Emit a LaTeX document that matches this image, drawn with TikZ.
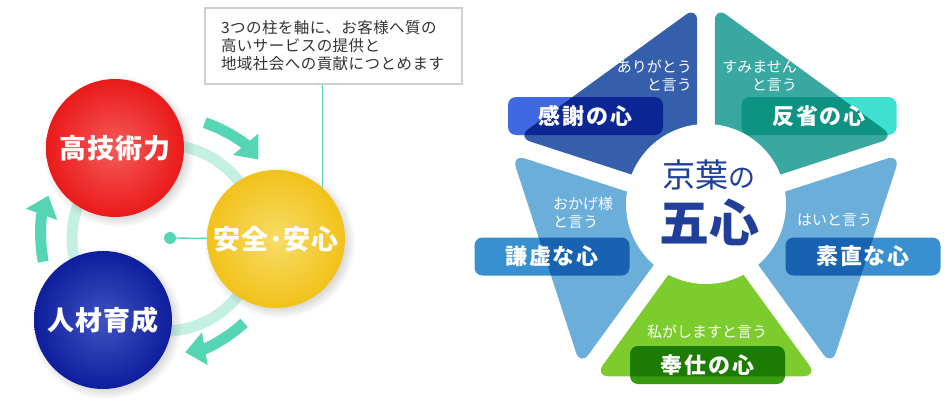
\documentclass[tikz,border=0pt]{standalone}
\usepackage{fontspec}
\setmainfont{Noto Sans CJK JP}
\usepackage{tikz}
\usetikzlibrary{arrows.meta,calc,shadows}
\definecolor{mint}{HTML}{55D5B3}
\definecolor{mintpale}{HTML}{C4F0E3}
\definecolor{notegray}{HTML}{CFCFCF}
\definecolor{notetext}{HTML}{333333}
\definecolor{redin}{HTML}{F65A5A}
\definecolor{redout}{HTML}{EA1A1A}
\definecolor{yellowin}{HTML}{F6DC68}
\definecolor{yellowout}{HTML}{F2C21A}
\definecolor{bluein}{HTML}{4053C2}
\definecolor{blueout}{HTML}{0E1E9C}
\definecolor{petalnavy}{HTML}{365FAB}
\definecolor{petalteal}{HTML}{38A8A1}
\definecolor{petalsky}{HTML}{6BAEDA}
\definecolor{petalgreen}{HTML}{7DCC2E}
\definecolor{tagnavy}{HTML}{4068E0}
\definecolor{tagteal}{HTML}{40E0D0}
\definecolor{tagsky}{HTML}{3890D0}
\definecolor{taggreen}{HTML}{3A9A10}
\definecolor{heartblue}{HTML}{213F98}
\tikzset{
  note/.style   ={rectangle, draw=notegray, line width=1.5pt, fill=white, text=notetext,
                  text width=225pt, inner xsep=16pt, minimum height=76pt, align=left,
                  font=\fontsize{15.5}{18}\selectfont\addfontfeature{LetterSpace=3}},
  pillar/.style ={circle, minimum size=138pt, inner sep=0pt, text=white, shading=radial,
                  font=\fontsize{27}{30}\selectfont\bfseries\addfontfeature{LetterSpace=4},
                  circular drop shadow={shadow xshift=3pt, shadow yshift=-3pt, opacity=.3}},
  ring/.style   ={draw=mintpale, line width=11pt},
  turn/.style   ={draw=mint, line width=11pt, -{Triangle[length=20pt,width=32pt]}},
  lead/.style   ={draw=mint, line width=1.3pt},
  hubdot/.style ={circle, fill=mint, minimum size=12pt, inner sep=0pt},
  petal/.style  ={rounded corners=14pt},
  tagbox/.style ={rectangle, rounded corners=8pt, minimum width=155pt, minimum height=38pt, inner sep=0pt},
  tagtext/.style={text=white, font=\fontsize{22}{24}\selectfont\bfseries\addfontfeature{LetterSpace=8}},
  saying/.style ={text=white, inner sep=0pt, font=\fontsize{15}{18}\selectfont},
}

\begin{document}
\begin{tikzpicture}[x=1pt, y=1pt]
  \useasboundingbox (0,0) rectangle (950,400);
  % three pillars
  \coordinate (hub) at (165,162);
  \draw[ring] (hub) circle[radius=93pt];
  \draw[turn] ([shift={(71:122pt)}]hub) arc[start angle=71, end angle=40, radius=122pt];
  \draw[turn] ([shift={(-47:116pt)}]hub) arc[start angle=-47, end angle=-80, radius=116pt];
  \draw[turn] ([shift={(191:124pt)}]hub) arc[start angle=191, end angle=160, radius=124pt];
  \node[note] (note) at (333.5,354) {3つの柱を軸に、お客様へ質の\\高いサービスの提供と\\地域社会への貢献につとめます};
  \node[pillar, inner color=redin, outer color=redout] (tech) at (115,252) {高技術力};
  \node[pillar, inner color=yellowin, outer color=yellowout] (safe) at (276,161) {安全･安心};
  \node[pillar, inner color=bluein, outer color=blueout] (people) at (103,80) {人材育成};
  \node[hubdot] (dot) at (170,162) {};
  \draw[lead] (dot) -- (safe);
  \draw[lead] (safe.48) -- (safe.48 |- note.south);

  % five hearts
  \coordinate (core) at (706,192);
  \foreach \k in {0,...,4} \coordinate (v\k) at ($(core)+(90+72*\k:208pt)$);
  \foreach \k/\col in {0/petalnavy,1/petalsky,2/petalgreen,3/petalsky,4/petalteal}{
    \pgfmathtruncatemacro{\n}{mod(\k+1,5)}
    \fill[petal, \col] ($(core)+(126+72*\k:15pt)$) -- ($(v\k)!11pt!(v\n)$) -- ($(v\n)!11pt!(v\k)$) -- cycle;
  }
  \node[circle, fill=white, minimum size=160pt] (heart) at (706,196) {};
  \node[text=heartblue, font=\fontsize{33}{36}\selectfont] (kyoyo) at (709,225) {京葉{\fontsize{27}{30}\selectfont の}};
  \node[text=heartblue, font=\fontsize{50}{54}\selectfont\bfseries] (goshin) at (709,178) {五心};
  \begin{scope}[blend mode=multiply]
    \node[tagbox, fill=tagnavy] (kansha) at (585.5,284) {};
    \node[tagbox, fill=tagteal] (hansei) at (819,284) {};
    \node[tagbox, fill=tagsky] (kenkyo) at (552,143.5) {};
    \node[tagbox, fill=tagsky] (sunao) at (863,143.5) {};
    \node[tagbox, fill=taggreen] (hoshi) at (707.5,35) {};
  \end{scope}
  \node[tagtext] at (kansha) {感謝の心};
  \node[tagtext] at (hansei) {反省の心};
  \node[tagtext] at (kenkyo) {謙虚な心};
  \node[tagtext] at (sunao) {素直な心};
  \node[tagtext] at (hoshi) {奉仕の心};
  \node[saying, align=right, anchor=east] (arigato) at (692,324) {ありがとう\\と言う};
  \node[saying, align=right, anchor=east] (sumimasen) at (797,324) {すみません\\と言う};
  \node[saying, align=left, anchor=west] (okage) at (553,187) {おかげ様\\と言う};
  \node[saying, anchor=west] (hai) at (797,180) {はいと言う};
  \node[saying] (watashi) at (707,68) {私がしますと言う};
\end{tikzpicture}
\end{document}
